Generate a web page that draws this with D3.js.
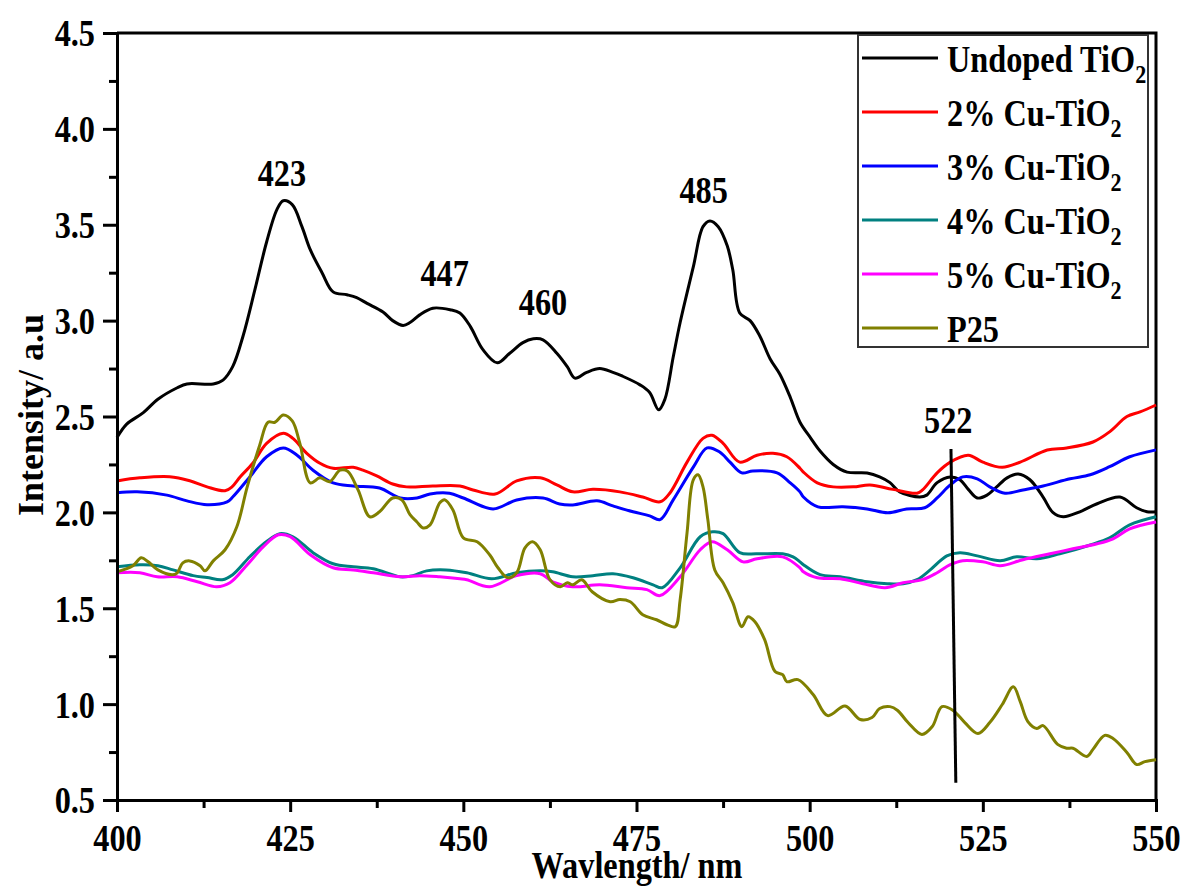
<!DOCTYPE html>
<html>
<head>
<meta charset="utf-8">
<script src="https://cdn.jsdelivr.net/npm/d3@7"></script>
<style>
  body { margin: 0; background: #fff; }
  text { font-family: "Liberation Serif", "Times New Roman", serif; font-weight: bold; fill: #000; }
</style>
</head>
<body>
<svg id="chart" width="1187" height="886"></svg>
<script>
// wavelength (nm), intensity (a.u)
const undoped = [[400,2.39],[401.4,2.46],[403.8,2.52],[405.9,2.59],[408.7,2.65],[410.1,2.67],[413.9,2.67],[415.3,2.69],[416.7,2.76],[418.2,2.92],[419.9,3.16],[421.6,3.41],[423.1,3.58],[424,3.625],[425.3,3.605],[426.7,3.49],[427.9,3.37],[429.6,3.25],[431.2,3.15],[433.2,3.135],[434.6,3.12],[436.1,3.09],[438.4,3.045],[439.8,3.0],[441.3,2.975],[442.3,2.99],[443.7,3.03],[445.6,3.065],[448.1,3.057],[449.5,3.04],[451,2.97],[452.8,2.85],[454.9,2.78],[456.7,2.83],[458.6,2.885],[460.1,2.905],[461.5,2.9],[463.5,2.83],[465,2.76],[466.1,2.70],[467.8,2.73],[469.7,2.75],[471.6,2.73],[473,2.71],[475.5,2.665],[476.9,2.625],[478.2,2.535],[479.1,2.59],[480.3,2.81],[481.3,2.99],[483.2,3.28],[484.6,3.49],[485.6,3.52],[486.8,3.49],[488.1,3.39],[488.9,3.265],[489.9,3.04],[491.4,3.0],[492.8,2.92],[494.3,2.80],[495.7,2.72],[497.2,2.60],[498.6,2.47],[500.1,2.39],[501.5,2.32],[503.4,2.25],[505.4,2.21],[508.3,2.205],[510.1,2.185],[511.6,2.155],[513,2.107],[515.9,2.08],[516.9,2.09],[518.4,2.155],[520.3,2.185],[521.7,2.17],[522.9,2.12],[524.2,2.075],[525.6,2.09],[527,2.133],[528.5,2.18],[530.1,2.2],[531.8,2.17],[533.7,2.08],[535.1,2.0],[536.6,1.977],[539,2.003],[541.5,2.045],[544.8,2.08],[547.2,2.024],[548.7,2.003],[550,2.003]];

const cu2 = [[400,2.164],[403.3,2.18],[407.6,2.186],[410.5,2.165],[413,2.133],[415.6,2.113],[416.6,2.133],[417.8,2.186],[419.6,2.256],[421.6,2.36],[424,2.413],[425.4,2.386],[427.4,2.308],[429.3,2.256],[431.2,2.23],[434.1,2.235],[435.5,2.22],[437.5,2.19],[439.8,2.148],[441.8,2.133],[445.6,2.138],[449.5,2.138],[451.4,2.117],[454.6,2.096],[457.7,2.164],[461.1,2.18],[463.5,2.143],[465.8,2.107],[468.7,2.12],[472.6,2.107],[475.9,2.08],[478.4,2.055],[479.8,2.1],[482.3,2.262],[484.6,2.386],[485.9,2.402],[487.5,2.36],[489.9,2.262],[492.4,2.298],[494.7,2.308],[496.7,2.29],[498.6,2.23],[499.1,2.21],[501.1,2.154],[503.4,2.133],[506.3,2.133],[508.7,2.143],[512,2.12],[515.5,2.1],[516.3,2.117],[518.4,2.206],[520.3,2.262],[522.9,2.298],[525,2.262],[527.8,2.235],[530.4,2.262],[534.3,2.325],[537.1,2.336],[540.9,2.367],[543.3,2.42],[545.8,2.5],[547.7,2.524],[550,2.56]];

const cu3 = [[400,2.102],[402.9,2.107],[407.2,2.09],[410.1,2.06],[413,2.04],[415.9,2.055],[416.7,2.08],[419.2,2.186],[421.6,2.29],[424,2.336],[426,2.298],[428.3,2.22],[431.2,2.154],[434.1,2.138],[437.9,2.127],[440.9,2.075],[443.3,2.075],[445.2,2.096],[448,2.1],[450,2.075],[454.3,2.018],[457.7,2.065],[461.5,2.075],[463.9,2.044],[465.8,2.039],[469.3,2.06],[471.6,2.034],[474.5,2.003],[476.9,1.982],[478.4,1.962],[480.3,2.065],[483.2,2.236],[485.2,2.336],[487,2.315],[488.5,2.262],[490.2,2.206],[491.8,2.216],[495.3,2.206],[497.2,2.154],[498.6,2.107],[499.1,2.08],[501.2,2.029],[504.8,2.029],[508.3,2.018],[511.3,1.998],[514,2.018],[516.6,2.024],[518.4,2.075],[520.3,2.143],[522.1,2.185],[524.2,2.175],[526,2.133],[528.2,2.1],[530.8,2.117],[533.7,2.138],[537.6,2.175],[540.5,2.196],[543.3,2.238],[546.2,2.29],[550,2.326]];

const cu4 = [[400,1.716],[403.3,1.727],[405.9,1.722],[408.1,1.70],[411,1.67],[413,1.66],[415.2,1.649],[416.7,1.675],[419.2,1.77],[421.6,1.848],[423.5,1.889],[425.4,1.873],[428.3,1.79],[431.2,1.732],[434.1,1.716],[437,1.706],[440.9,1.664],[442.7,1.67],[444.7,1.695],[447.5,1.70],[450.5,1.685],[454.1,1.654],[457.7,1.685],[461.1,1.695],[462.9,1.69],[465.8,1.664],[468.7,1.67],[471.6,1.68],[474.5,1.659],[477.4,1.622],[478.7,1.607],[481.3,1.711],[484.2,1.873],[486,1.899],[487.5,1.889],[489.9,1.79],[492.4,1.784],[496.1,1.784],[497.6,1.768],[498.6,1.742],[499.1,1.727],[501.5,1.675],[504.4,1.664],[508.3,1.638],[511.2,1.628],[513.5,1.628],[515.5,1.649],[517.4,1.70],[519.8,1.773],[521.7,1.789],[524.2,1.773],[527.5,1.748],[529.9,1.768],[532.8,1.758],[536.1,1.784],[540.5,1.83],[543.3,1.867],[546.2,1.935],[550,1.977]];

const cu5 = [[400,1.685],[403.3,1.685],[405.8,1.664],[408.7,1.664],[411.6,1.638],[414.4,1.612],[416.3,1.633],[418.8,1.727],[421.1,1.82],[423.3,1.883],[425,1.873],[427.9,1.779],[431.2,1.711],[434.1,1.70],[437,1.685],[440.9,1.664],[443.7,1.67],[446.6,1.664],[449.5,1.654],[450.5,1.649],[453.8,1.612],[457.7,1.67],[461.1,1.68],[462.9,1.638],[465.8,1.612],[469.7,1.622],[473.6,1.607],[476.5,1.597],[478.4,1.566],[481.3,1.664],[484.2,1.805],[485.9,1.847],[488.1,1.805],[490.4,1.742],[492.4,1.758],[496.1,1.768],[498.6,1.711],[499.1,1.69],[501.1,1.659],[504.4,1.654],[507.7,1.628],[510.9,1.607],[513.5,1.633],[516.3,1.649],[518.4,1.685],[520.3,1.727],[522.1,1.748],[525,1.742],[527.5,1.722],[530.8,1.753],[534.7,1.784],[538,1.81],[541.5,1.836],[543.8,1.862],[546.2,1.914],[550,1.95]];

const p25 = [[400,1.69],[402.3,1.722],[403.5,1.763],[404.5,1.742],[405.9,1.70],[408,1.675],[408.7,1.685],[409.5,1.737],[410.5,1.747],[412,1.722],[412.7,1.695],[413.9,1.747],[415.6,1.805],[417.3,1.925],[418.8,2.133],[420.6,2.35],[421.8,2.47],[422.8,2.47],[424,2.508],[425.3,2.477],[426.4,2.36],[427.9,2.154],[429.3,2.18],[430.7,2.16],[432.2,2.22],[433.3,2.215],[434.8,2.117],[436.5,1.977],[437.9,2.003],[439.8,2.075],[441.1,2.066],[442.3,1.988],[443.3,1.95],[444.2,1.919],[445.2,1.935],[446.6,2.05],[447.3,2.066],[448.5,2.013],[450,1.867],[452,1.847],[453.8,1.779],[455,1.711],[456.4,1.659],[457.7,1.685],[458.9,1.815],[460,1.847],[461.1,1.805],[462.5,1.649],[464,1.612],[465,1.633],[465.8,1.622],[467.1,1.649],[468.6,1.586],[471.2,1.534],[472.6,1.545],[474.1,1.534],[475.9,1.466],[477.9,1.44],[479.4,1.414],[480.6,1.404],[481.3,1.545],[482.3,1.894],[483.2,2.17],[483.9,2.196],[484.6,2.133],[485.3,1.962],[486.3,1.70],[487.5,1.633],[488.9,1.529],[490.2,1.404],[491.1,1.456],[492.1,1.43],[493.5,1.336],[495,1.17],[496.1,1.154],[496.7,1.117],[498.3,1.128],[500.5,1.05],[502.6,0.94],[505.1,0.99],[507.3,0.92],[509,0.93],[510.1,0.977],[511.6,0.987],[512.7,0.967],[514.2,0.904],[516.2,0.842],[517.7,0.883],[519.1,0.987],[520.7,0.967],[522.4,0.904],[524.3,0.847],[526,0.904],[527.8,0.998],[529.4,1.09],[530.4,1.013],[531.5,0.909],[532.8,0.873],[533.7,0.888],[535.8,0.79],[537.1,0.77],[538,0.77],[540,0.727],[540.9,0.764],[542.6,0.837],[543.8,0.821],[545.8,0.748],[547.2,0.685],[548.4,0.70],[550,0.71]];

const seriesNames = ["Undoped TiO", "2% Cu-TiO", "3% Cu-TiO", "4% Cu-TiO", "5% Cu-TiO", "P25"];
const seriesSubs = ["2", "2", "2", "2", "2", ""];
const seriesColors = ["#000000", "#ff0000", "#0000ff", "#008080", "#ff00ff", "#808000"];
const seriesData = [undoped, cu2, cu3, cu4, cu5, p25];

const xTicks = [400, 425, 450, 475, 500, 525, 550];
const yTicks = [0.5, 1.0, 1.5, 2.0, 2.5, 3.0, 3.5, 4.0, 4.5];

// peak labels: text, wavelength position, intensity position
const peakLabels = ["423", "447", "460", "485", "522"];
const peakX = [423.8, 447.3, 461.5, 484.7, 520.0];
const peakY = [3.70, 3.18, 3.03, 3.615, 2.415];
// marker line for 522
const markerLine = [[520.4, 2.33], [521.1, 0.59]];

const sx = 0.85; // glyphs in the figure are horizontally squeezed

const svg = d3.select("#chart");
const x = d3.scaleLinear().domain([400, 550]).range([117, 1156]);
const y = d3.scaleLinear().domain([0.5, 4.5]).range([800, 33]);

// frame (top + right)
svg.append("path")
    .attr("d", `M${x(400)},${y(4.5)}H${x(550)}V${y(0.5)}`)
    .attr("fill", "none")
    .attr("stroke", "#000")
    .attr("stroke-width", 3);

// curves
const line = d3.line()
    .x(d => x(d[0]))
    .y(d => y(d[1]))
    .curve(d3.curveCatmullRom.alpha(0.5));

svg.append("g")
    .selectAll("path")
    .data(seriesData)
    .join("path")
    .attr("d", line)
    .attr("fill", "none")
    .attr("stroke", (d, i) => seriesColors[i])
    .attr("stroke-width", 3)
    .attr("stroke-linejoin", "round");

// 522 marker
svg.append("path")
    .attr("d", d3.line().x(d => x(d[0])).y(d => y(d[1]))(markerLine))
    .attr("stroke", "#000")
    .attr("stroke-width", 3);

// axes
const xAxis = svg.append("g")
    .attr("transform", `translate(0,${y(0.5)})`)
    .call(d3.axisBottom(x).tickValues(xTicks).tickSize(12).tickPadding(12).tickFormat(d3.format("d")));
svg.append("g")
    .attr("transform", `translate(0,${y(0.5)})`)
    .call(d3.axisBottom(x).tickValues(d3.range(412.5, 550, 25)).tickSize(8).tickFormat(""));

const yAxis = svg.append("g")
    .attr("transform", `translate(${x(400)},0)`)
    .call(d3.axisLeft(y).tickValues(yTicks).tickSize(14).tickFormat(d3.format(".1f")));
svg.append("g")
    .attr("transform", `translate(${x(400)},0)`)
    .call(d3.axisLeft(y).tickValues(d3.range(0.75, 4.5, 0.5)).tickSize(8).tickFormat(""));

svg.selectAll(".domain").attr("stroke-width", 3).attr("stroke", "#000");
svg.selectAll(".tick line").attr("stroke-width", 3).attr("stroke", "#000");

xAxis.selectAll("text")
    .attr("font-size", 38)
    .attr("font-family", null)
    .attr("transform", `scale(${sx},1)`);
yAxis.selectAll("text")
    .attr("font-size", 38)
    .attr("font-family", null)
    .attr("x", -22 / sx)
    .attr("dy", "0.34em")
    .attr("transform", `scale(${sx},1)`);

// axis titles
svg.append("text")
    .attr("transform", `translate(637,878) scale(${sx},1)`)
    .attr("text-anchor", "middle")
    .attr("font-size", 38)
    .text("Wavlength/ nm");

svg.append("text")
    .attr("transform", "translate(43,415) rotate(-90)")
    .attr("text-anchor", "middle")
    .attr("font-size", 36)
    .text("Intensity/ a.u");

// peak annotations
svg.append("g")
    .selectAll("text")
    .data(peakLabels)
    .join("text")
    .attr("transform", (d, i) => `translate(${x(peakX[i])},${y(peakY[i])}) scale(${sx},1)`)
    .attr("text-anchor", "middle")
    .attr("font-size", 38)
    .text(d => d);

// legend
const legend = svg.append("g");
legend.append("rect")
    .attr("x", 858).attr("y", 35)
    .attr("width", 290).attr("height", 312)
    .attr("fill", "#fff")
    .attr("stroke", "#333")
    .attr("stroke-width", 2);

const rows = legend.selectAll("g.row")
    .data(seriesNames)
    .join("g")
    .attr("class", "row")
    .attr("transform", (d, i) => `translate(0,${58 + i * 54})`);

rows.append("line")
    .attr("x1", 862).attr("x2", 938)
    .attr("stroke", (d, i) => seriesColors[i])
    .attr("stroke-width", 3);

const labels = rows.append("text")
    .attr("transform", `translate(947,14) scale(${sx},1)`)
    .attr("font-size", 38);
labels.append("tspan").text(d => d);
labels.append("tspan")
    .attr("font-size", 26)
    .attr("dy", 11)
    .text((d, i) => seriesSubs[i]);
</script>
</body>
</html>
